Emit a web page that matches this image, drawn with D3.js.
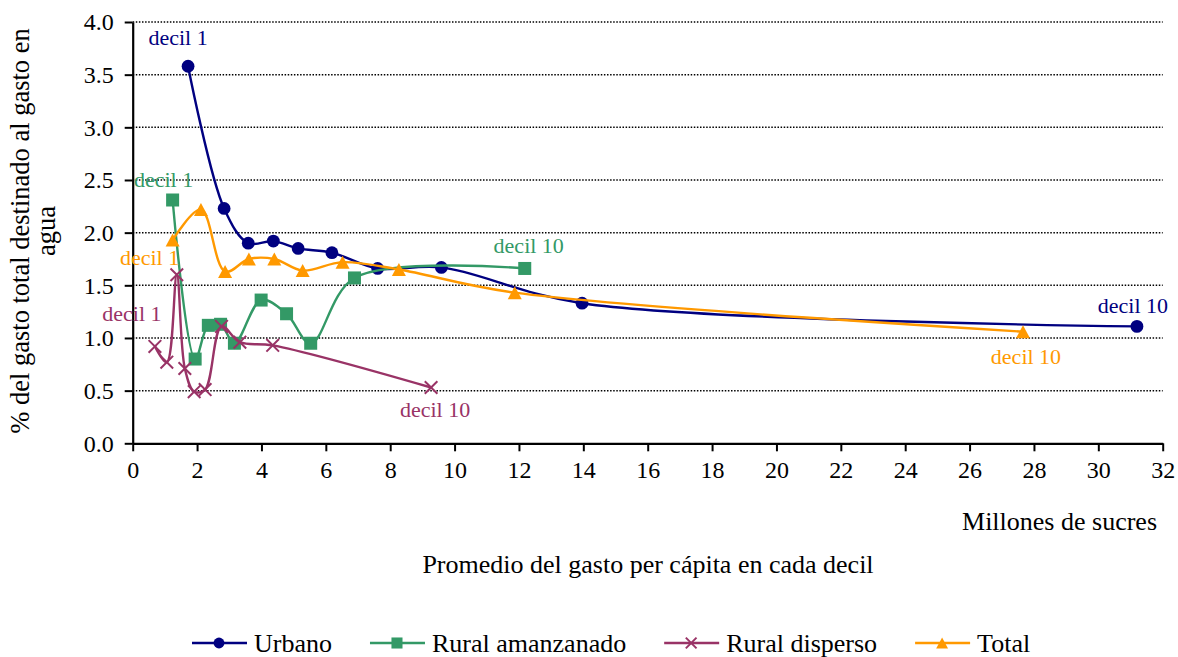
<!DOCTYPE html>
<html>
<head>
<meta charset="utf-8">
<script src="https://cdn.jsdelivr.net/npm/d3@7"></script>
<style>
  html, body { margin: 0; padding: 0; background: #ffffff; }
  svg { display: block; }
  text { font-family: "Liberation Serif", "Times New Roman", serif; fill: #000; }
</style>
</head>
<body>
<div id="chart"></div>
<script>
// ---------- Data ----------
const seriesNames = ["Urbano", "Rural amanzanado", "Rural disperso", "Total"];

const urbanoX = [1.72, 2.84, 3.59, 4.37, 5.14, 6.19, 7.61, 9.59, 13.96, 31.20];
const urbanoY = [3.58, 2.23, 1.90, 1.92, 1.85, 1.81, 1.66, 1.67, 1.33, 1.11];

const ruralAmanzanadoX = [1.24, 1.94, 2.35, 2.73, 3.16, 3.99, 4.78, 5.53, 6.89, 12.18];
const ruralAmanzanadoY = [2.31, 0.80, 1.12, 1.13, 0.95, 1.36, 1.23, 0.95, 1.57, 1.66];

const ruralDispersoX = [0.69, 1.06, 1.37, 1.62, 1.91, 2.25, 2.76, 3.33, 4.35, 9.27];
const ruralDispersoY = [0.92, 0.77, 1.60, 0.71, 0.49, 0.51, 1.11, 0.96, 0.93, 0.53];

const totalX = [1.24, 2.12, 2.87, 3.61, 4.40, 5.28, 6.52, 8.27, 11.87, 27.66];
const totalY = [1.93, 2.22, 1.63, 1.75, 1.75, 1.64, 1.72, 1.65, 1.43, 1.06];

const xTicks = [0, 2, 4, 6, 8, 10, 12, 14, 16, 18, 20, 22, 24, 26, 28, 30, 32];
const yTicks = [0, 0.5, 1.0, 1.5, 2.0, 2.5, 3.0, 3.5, 4.0];
const decilLabels = ["decil 1", "decil 10"];

const xUnitLabel = "Millones de sucres";
const xAxisTitle = "Promedio del gasto per cápita en cada decil";
const yAxisTitle = ["% del gasto total destinado al gasto en", "agua"];

// ---------- Styles ----------
const FONT = '"Liberation Serif", "Times New Roman", serif';
const colors = {
  "Urbano": "#000080",
  "Rural amanzanado": "#339966",
  "Rural disperso": "#993366",
  "Total": "#FF9900"
};
const markers = {
  "Urbano": "circle",
  "Rural amanzanado": "square",
  "Rural disperso": "x",
  "Total": "triangle"
};

const series = [
  { name: "Urbano", xs: urbanoX, ys: urbanoY },
  { name: "Rural amanzanado", xs: ruralAmanzanadoX, ys: ruralAmanzanadoY },
  { name: "Rural disperso", xs: ruralDispersoX, ys: ruralDispersoY },
  { name: "Total", xs: totalX, ys: totalY }
].map(s => ({ ...s, pts: s.xs.map((x, i) => ({ x, y: s.ys[i] })) }));

// label placement offsets (pixels) relative to first / last point
const labelOffsets = {
  "Urbano":           [{ dx: -10, dy: -21 }, { dx: -4, dy: -13 }],
  "Rural amanzanado": [{ dx: -9,  dy: -13 }, { dx: 4,  dy: -15 }],
  "Rural disperso":   [{ dx: -23, dy: -25 }, { dx: 4,  dy: 30 }],
  "Total":            [{ dx: -23, dy: 25 },  { dx: 3,  dy: 32 }]
};

// ---------- Layout ----------
const W = 1178, H = 657;
const x = d3.scaleLinear().domain([0, 32]).range([132.7, 1162.7]);
const y = d3.scaleLinear().domain([0, 4]).range([443.3, 22]);

const svg = d3.select("#chart").append("svg")
  .attr("width", W).attr("height", H)
  .attr("font-family", FONT);

// gridlines
svg.append("g").selectAll("line")
  .data(yTicks.filter(t => t > 0))
  .join("line")
  .attr("x1", x(0)).attr("x2", x(32))
  .attr("y1", d => y(d)).attr("y2", d => y(d))
  .attr("stroke", "#000").attr("stroke-width", 1.5)
  .attr("stroke-dasharray", "1.5,1.6");

// axes
const xAxis = d3.axisBottom(x).tickValues(xTicks).tickFormat(d3.format("d"))
  .tickSizeInner(8).tickSizeOuter(0).tickPadding(10);
const yAxis = d3.axisLeft(y).tickValues(yTicks).tickFormat(d3.format(".1f"))
  .tickSizeInner(8).tickSizeOuter(0).tickPadding(11);

const gx = svg.append("g").attr("transform", `translate(0,${y(0)})`).call(xAxis);
const gy = svg.append("g").attr("transform", `translate(${x(0)},0)`).call(yAxis);
[gx, gy].forEach(g => {
  g.attr("font-family", FONT).attr("font-size", 24);
  g.select(".domain").attr("stroke", "#000").attr("stroke-width", 2.2);
  g.selectAll(".tick line").attr("stroke", "#000").attr("stroke-width", 2);
  g.selectAll(".tick text")
    .style("font-family", FONT)
    .style("font-size", "24px").attr("fill", "#000");
});
gx.selectAll(".tick text").attr("dy", "0.71em");
gy.selectAll(".tick text").attr("dy", "0.33em");

// axis titles
svg.append("text")
  .attr("x", 1157).attr("y", 530)
  .attr("text-anchor", "end")
  .style("font-size", "26px")
  .text(xUnitLabel);

svg.append("text")
  .attr("x", 648).attr("y", 573)
  .attr("text-anchor", "middle")
  .style("font-size", "26px")
  .text(xAxisTitle);

const yt = svg.append("g").attr("transform", "translate(0,231) rotate(-90)");
yt.selectAll("text").data(yAxisTitle).join("text")
  .attr("x", 0)
  .attr("y", (d, i) => i === 0 ? 29 : 55)
  .attr("text-anchor", "middle")
  .style("font-size", "26.5px")
  .text(d => d);

// ---------- Series ----------
const line = d3.line()
  .x(d => x(d.x)).y(d => y(d.y))
  .curve(d3.curveCatmullRom.alpha(0.5));

function drawMarker(g, type, cx, cy, color, s) {
  s = s || 1;
  if (type === "circle") {
    g.append("circle").attr("cx", cx).attr("cy", cy).attr("r", 6.4 * s)
      .attr("fill", color);
  } else if (type === "square") {
    const a = 13 * s;
    g.append("rect").attr("x", cx - a / 2).attr("y", cy - a / 2)
      .attr("width", a).attr("height", a).attr("fill", color);
  } else if (type === "triangle") {
    const w = 14 * s, h = 13 * s;
    g.append("path")
      .attr("d", `M${cx},${cy - h / 2}L${cx + w / 2},${cy + h / 2}L${cx - w / 2},${cy + h / 2}Z`)
      .attr("fill", color);
  } else if (type === "x") {
    const r = 6.3 * s;
    g.append("path")
      .attr("d", `M${cx - r},${cy - r}L${cx + r},${cy + r}M${cx - r},${cy + r}L${cx + r},${cy - r}`)
      .attr("stroke", color).attr("stroke-width", 2).attr("fill", "none");
  }
}

series.forEach(s => {
  const g = svg.append("g");
  g.append("path").datum(s.pts)
    .attr("d", line)
    .attr("fill", "none")
    .attr("stroke", colors[s.name])
    .attr("stroke-width", 2.4);
  s.pts.forEach(p => drawMarker(g, markers[s.name], x(p.x), y(p.y), colors[s.name]));
});

// decil labels
series.forEach(s => {
  const ends = [s.pts[0], s.pts[s.pts.length - 1]];
  ends.forEach((p, i) => {
    const o = labelOffsets[s.name][i];
    svg.append("text")
      .attr("x", x(p.x) + o.dx)
      .attr("y", y(p.y) + o.dy)
      .attr("text-anchor", "middle")
      .style("fill", colors[s.name])
      .style("font-size", "22px")
      .text(decilLabels[i]);
  });
});

// ---------- Legend ----------
const legend = svg.append("g").attr("transform", "translate(192,643)");
let lx = 0;
seriesNames.forEach(name => {
  const g = legend.append("g").attr("transform", `translate(${lx},0)`);
  g.append("line").attr("x1", 0).attr("x2", 55).attr("y1", 0).attr("y2", 0)
    .attr("stroke", colors[name]).attr("stroke-width", 2.4);
  drawMarker(g, markers[name], 27, 0, colors[name], 0.85);
  const t = g.append("text").attr("x", 62).attr("y", 9)
    .style("font-size", "26px").text(name);
  const tw = t.node().getComputedTextLength();
  lx += 62 + tw + 38;
});
</script>
</body>
</html>
